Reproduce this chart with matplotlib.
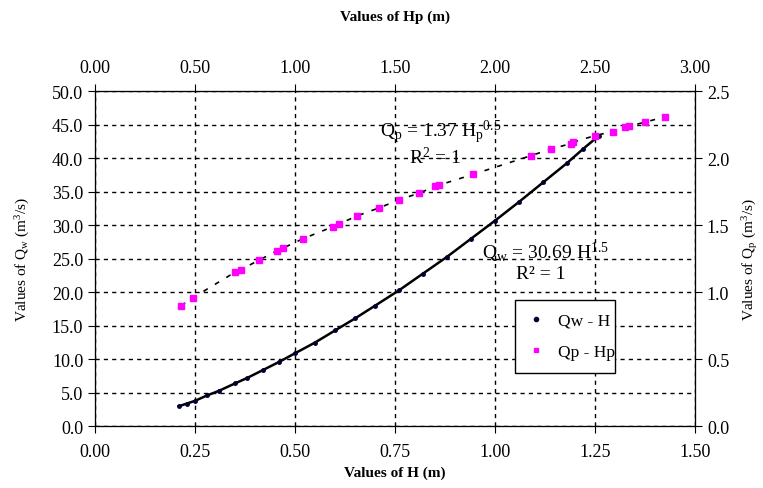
import matplotlib
matplotlib.use("Agg")
from matplotlib import pyplot as plt
from matplotlib.ticker import FormatStrFormatter, MultipleLocator

# Qw - H (bottom / left axes)
h_vals = [0.21, 0.23, 0.25, 0.28, 0.31, 0.35, 0.38, 0.42, 0.46, 0.50, 0.55, 0.60,
          0.65, 0.70, 0.76, 0.82, 0.88, 0.94, 1.00, 1.06, 1.12, 1.18, 1.22, 1.26]
qw_vals = [3.0, 3.4, 3.8, 4.6, 5.3, 6.4, 7.2, 8.4, 9.6, 10.9, 12.5, 14.3,
           16.1, 18.0, 20.3, 22.8, 25.3, 28.0, 30.7, 33.5, 36.4, 39.3, 41.4, 43.4]

# Qp - Hp (top / right axes)
hp_vals = [0.43, 0.49, 0.70, 0.73, 0.82, 0.91, 0.94, 1.04, 1.19, 1.22, 1.31, 1.42, 1.52,
           1.62, 1.70, 1.72, 1.89, 2.18, 2.28, 2.38, 2.39, 2.50, 2.59, 2.65, 2.67, 2.75, 2.85]
qp_vals = [0.90, 0.96, 1.15, 1.17, 1.24, 1.31, 1.33, 1.40, 1.49, 1.51, 1.57, 1.63, 1.69,
           1.74, 1.79, 1.80, 1.88, 2.02, 2.07, 2.11, 2.12, 2.17, 2.20, 2.23, 2.24, 2.27, 2.31]

plt.rcParams['font.family'] = ['Liberation Serif', 'DejaVu Serif']
plt.rcParams['mathtext.fontset'] = 'custom'
plt.rcParams['mathtext.rm'] = 'Liberation Serif'
plt.rcParams['mathtext.it'] = 'Liberation Serif'
plt.rcParams['font.size'] = 12

fig = plt.figure(figsize=(7.63, 4.89), dpi=100)
ax = fig.add_axes([0.1245, 0.1262, 0.7865, 0.685])
ax2 = ax.twinx()
ax3 = ax2.twiny()

# main axes: H vs Qw
ax.set_xlim(0, 1.5)
ax.set_ylim(0, 50)
ax.xaxis.set_major_locator(MultipleLocator(0.25))
ax.yaxis.set_major_locator(MultipleLocator(5))
ax.xaxis.set_major_formatter(FormatStrFormatter('%.2f'))
ax.yaxis.set_major_formatter(FormatStrFormatter('%.1f'))
ax.grid(True, color='black', linestyle=(0, (3, 3)), linewidth=1)
ax.tick_params(direction='out', length=5, color='black', labelsize=13)
ax.tick_params(axis='x', pad=7)
ax.set_xlabel('Values of H (m)', fontsize=11, fontweight='bold', labelpad=4)
ax.set_ylabel('Values of Q$_w$ (m$^3$/s)', fontsize=11, labelpad=14)

ax.plot(h_vals, qw_vals, color='black', linewidth=1.8, marker='o', markersize=2.5,
        markerfacecolor='#000033', markeredgecolor='#000033', zorder=3)

# right axis for Qp
ax2.set_ylim(0, 2.5)
ax2.yaxis.set_major_locator(MultipleLocator(0.5))
ax2.yaxis.set_major_formatter(FormatStrFormatter('%.1f'))
ax2.tick_params(direction='out', length=5, labelsize=13)
ax2.set_ylabel('Values of Q$_p$ (m$^3$/s)', fontsize=11, labelpad=8)

# top axis for Hp
ax3.set_xlim(0, 3.0)
ax3.xaxis.set_major_locator(MultipleLocator(0.5))
ax3.xaxis.set_major_formatter(FormatStrFormatter('%.2f'))
ax3.tick_params(direction='out', length=5, labelsize=13, pad=6)
ax3.set_xlabel('Values of Hp (m)', fontsize=11, fontweight='bold', labelpad=28)

ax3.plot(hp_vals, qp_vals, color='black', linewidth=1.2, linestyle=(0, (3, 5)), zorder=2)
ax3.plot(hp_vals, qp_vals, linestyle='none', marker='s', markersize=4,
         color='magenta', zorder=3)

# equations
ax3.text(1.73, 2.20, 'Q$_p$ = 1.37 H$_p$$^{0.5}$', ha='center', va='center', fontsize=14)
ax3.text(1.70, 2.01, 'R$^2$ = 1', ha='center', va='center', fontsize=14)
ax3.text(2.25, 1.30, 'Q$_w$ = 30.69 H$^{1.5}$', ha='center', va='center', fontsize=14)
ax3.text(2.23, 1.14, 'R² = 1', ha='center', va='center', fontsize=14)

# legend
h1, = ax.plot([], [], linestyle='none', marker='o', markersize=3, color='#000033', label='Qw - H')
h2, = ax.plot([], [], linestyle='none', marker='s', markersize=3, color='magenta', label='Qp - Hp')
leg = ax3.legend([h1, h2], ['Qw - H', 'Qp - Hp'], loc='center',
                 bbox_to_anchor=(0.70, 0.268, 0.167, 0.0), mode='expand',
                 borderaxespad=0, fancybox=False, edgecolor='black', framealpha=1,
                 fontsize=12.5, handlelength=1.0, borderpad=0.7, labelspacing=0.9)
leg.get_frame().set_linewidth(1)

fig.savefig('out.png', dpi=100)
